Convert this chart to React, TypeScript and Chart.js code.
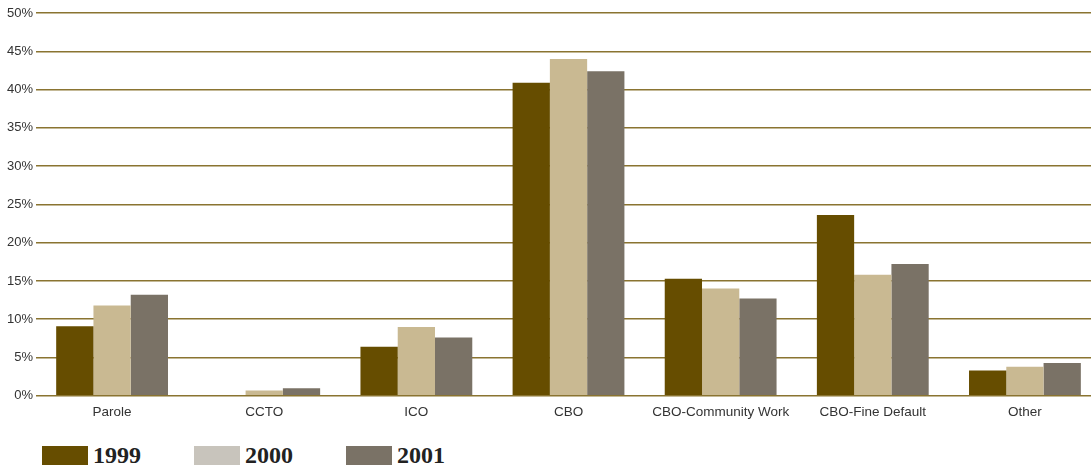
import React, { useEffect, useRef } from "react";
import { Chart, registerables } from "chart.js";

Chart.register(...registerables);

const categories = ["Parole", "CCTO", "ICO", "CBO", "CBO-Community Work", "CBO-Fine Default", "Other"];
const series1999 = [9.1, 0, 6.4, 40.9, 15.3, 23.6, 3.3];
const series2000 = [11.8, 0.7, 9.0, 44.0, 14.0, 15.8, 3.8];
const series2001 = [13.2, 1.0, 7.6, 42.4, 12.7, 17.2, 4.3];
const yearLabels = ["1999", "2000", "2001"];
const barColors = ["#664d00", "#c9b992", "#7a7266"];
const legendColors = ["#664d00", "#c8c4bc", "#7a7266"];

export default function App() {
  const ref = useRef<HTMLCanvasElement | null>(null);
  useEffect(() => {
    if (!ref.current) return;
    const chart = new Chart(ref.current, {
      type: "bar",
      data: {
        labels: categories,
        datasets: [series1999, series2000, series2001].map((d, i) => ({
          label: yearLabels[i],
          data: d,
          backgroundColor: barColors[i],
          borderWidth: 0,
          barPercentage: 1,
          categoryPercentage: 0.735,
        })),
      },
      options: {
        animation: false,
        responsive: false,
        maintainAspectRatio: false,
        layout: { padding: { top: 13, right: 0, left: 4, bottom: 0 } },
        plugins: { legend: { display: false }, tooltip: { enabled: false } },
        scales: {
          x: {
            grid: { display: false },
            border: { display: false },
            ticks: { color: "#333", font: { family: "Liberation Sans, Arial", size: 13.5 }, padding: 0 },
          },
          y: {
            min: 0,
            max: 50,
            grid: { color: "#8a7431", lineWidth: 1.5, drawTicks: false },
            border: { display: false },
            ticks: {
              stepSize: 5,
              color: "#333",
              padding: 3,
              font: { family: "Liberation Sans, Arial", size: 13 },
              callback: (v: any) => v + "%",
            },
          },
        },
      },
    });
    return () => chart.destroy();
  }, []);
  return (
    <div style={{ position: "fixed", left: 0, top: 0, width: 1091, height: 468, background: "#fff", overflow: "hidden" }}>
      <canvas ref={ref} width={1101} height={420} style={{ display: "block" }} />
      <div style={{ display: "flex", position: "absolute", left: 42, top: 444 }}>
        {yearLabels.map((y, i) => (
          <div key={y} style={{ display: "flex", alignItems: "center", width: i === 2 ? 120 : 152 }}>
            <div style={{ width: 46, height: 19, background: legendColors[i] }} />
            <span
              style={{
                marginLeft: 5,
                fontFamily: "Liberation Serif, Times New Roman, serif",
                fontWeight: "bold",
                fontSize: 24,
                color: "#222",
                lineHeight: "22px",
              }}
            >
              {y}
            </span>
          </div>
        ))}
      </div>
    </div>
  );
}
